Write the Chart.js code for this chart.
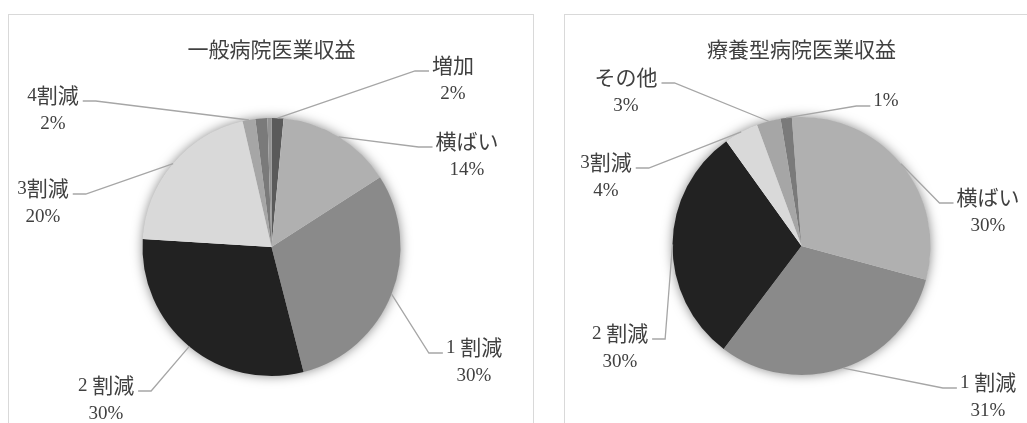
<!DOCTYPE html>
<html>
<head>
<meta charset="utf-8">
<script src="https://cdn.jsdelivr.net/npm/chart.js@4"></script>
<style>
  html, body { margin: 0; padding: 0; background: #fff; overflow: hidden; }
  body { width: 1027px; height: 423px; position: relative; }
  .frame { position: absolute; top: 14px; height: 430px; border: 1px solid #d9d9d9; box-sizing: border-box; }
  #frameA { left: 8px; width: 526px; }
  #frameB { left: 564px; width: 500px; }
  canvas { position: absolute; left: 0; top: 0; }
</style>
</head>
<body>
<div class="frame" id="frameA"></div>
<div class="frame" id="frameB"></div>
<canvas id="generalChart" width="1027" height="423"></canvas>
<canvas id="careChart" width="1027" height="423"></canvas>

<script>
// ===== DATA =====
const generalTitle = "一般病院医業収益";
const generalLabels = ["増加", "横ばい", "1 割減", "2 割減", "3割減", "4割減", "", ""];
const generalValues = [1.5, 14.4, 30.1, 30.0, 20.4, 1.6, 1.5, 0.5];
const generalColors = ["#5a5a5a", "#b0b0b0", "#8a8a8a", "#222222", "#d9d9d9", "#a6a6a6", "#7a7a7a", "#939393"];

const careTitle = "療養型病院医業収益";
const careLabels = ["横ばい", "1 割減", "2 割減", "3割減", "その他", ""];
const careValues = [30.4, 31.1, 29.8, 4.3, 3.0, 1.4];
const careColors = ["#b0b0b0", "#8a8a8a", "#222222", "#d9d9d9", "#a6a6a6", "#7a7a7a"];

// ===== LAYOUT (page px) =====
// label block centre for each slice, null = no label
const generalLabelPos = [[453, 65], [467, 141], [474, 347], [106, 385], [43, 188], [53, 95], null, null];
const careLabelPos = [[988, 197], [988, 382], [620, 333], [606, 162], [626, 77], [886, 100]];

// latin digits and kana/kanji are set with different faces, like a mincho label
const FONT_LATIN = "19px 'Liberation Serif', serif";
const FONT_CJK = "21px 'Noto Sans CJK JP', sans-serif";
const TEXT_COLOR = "#404040";
const LINE_COLOR = "#a6a6a6";

// split a string into runs of ascii / non-ascii characters
function textRuns(str) {
  const runs = [];
  for (const ch of str) {
    const latin = ch.charCodeAt(0) < 128;
    const last = runs[runs.length - 1];
    if (last && last.latin === latin) last.text += ch;
    else runs.push({ text: ch, latin: latin });
  }
  return runs;
}

function measureMixed(ctx, str) {
  let w = 0;
  textRuns(str).forEach(r => {
    ctx.font = r.latin ? FONT_LATIN : FONT_CJK;
    w += ctx.measureText(r.text).width;
  });
  return w;
}

function drawMixed(ctx, str, cx, cy) {
  let x = cx - measureMixed(ctx, str) / 2;
  ctx.textAlign = "left";
  textRuns(str).forEach(r => {
    ctx.font = r.latin ? FONT_LATIN : FONT_CJK;
    ctx.fillText(r.text, x, r.latin ? cy + 1 : cy);
    x += ctx.measureText(r.text).width;
  });
}

/* =========================
   SOFT SHADOW UNDER THE PIE
========================= */
const pieShadow = {
  id: "pieShadow",
  beforeDatasetsDraw(chart) {
    const arc = chart.getDatasetMeta(0).data[0];
    if (!arc) return;
    const ctx = chart.ctx;
    ctx.save();
    ctx.shadowColor = "rgba(0,0,0,0.5)";
    ctx.shadowBlur = 12;
    ctx.fillStyle = "#ffffff";
    ctx.beginPath();
    ctx.arc(arc.x, arc.y, arc.outerRadius - 0.5, 0, Math.PI * 2);
    ctx.fill();
    ctx.restore();
  }
};

/* =========================
   TITLE + LEADER LINE LABELS
========================= */
const leaderLabels = {
  id: "leaderLabels",
  afterDatasetsDraw(chart, args, opts) {
    const ctx = chart.ctx;
    const meta = chart.getDatasetMeta(0);
    const values = chart.data.datasets[0].data;
    const names = chart.data.labels;
    const total = values.reduce((a, b) => a + b, 0);
    const cx = meta.data[0].x;

    ctx.save();
    ctx.fillStyle = TEXT_COLOR;
    ctx.textBaseline = "middle";
    drawMixed(ctx, opts.title, cx, 49);

    meta.data.forEach((arc, i) => {
      const pos = opts.positions[i];
      if (!pos) return;
      const name = names[i];
      const pct = Math.round(values[i] / total * 100) + "%";
      const [tx, ty] = pos;

      const w = Math.max(measureMixed(ctx, name), measureMixed(ctx, pct));
      const segY = ty + 6;
      let far, near;
      if (tx > cx) {
        far = tx - w / 2 - 3;
        near = far - 14;
      } else {
        far = tx + w / 2 + 4;
        near = far + 13;
      }

      const mid = (arc.startAngle + arc.endAngle) / 2;
      const sx = arc.x + arc.outerRadius * Math.cos(mid);
      const sy = arc.y + arc.outerRadius * Math.sin(mid);

      ctx.strokeStyle = LINE_COLOR;
      ctx.lineWidth = 1.3;
      ctx.beginPath();
      ctx.moveTo(sx, sy);
      ctx.lineTo(near, segY);
      ctx.lineTo(far, segY);
      ctx.stroke();

      if (name) {
        drawMixed(ctx, name, tx, ty);
        drawMixed(ctx, pct, tx, ty + 28.5);
      } else {
        drawMixed(ctx, pct, tx, ty);
      }
    });
    ctx.restore();
  }
};

function buildPie(canvasId, title, labels, values, colors, positions, padding, rotation) {
  const ctx = document.getElementById(canvasId).getContext("2d");
  return new Chart(ctx, {
    type: "pie",
    data: {
      labels: labels,
      datasets: [
        {
          data: values,
          backgroundColor: colors,
          borderWidth: 0
        }
      ]
    },
    options: {
      responsive: false,
      animation: false,
      radius: 129,
      rotation: rotation,
      layout: { padding: padding },
      events: [],
      plugins: {
        legend: { display: false },
        tooltip: { enabled: false },
        leaderLabels: { title: title, positions: positions }
      }
    },
    plugins: [pieShadow, leaderLabels]
  });
}

// pie centres: (271.5, 247) and (801.5, 246)
buildPie("generalChart", generalTitle, generalLabels, generalValues, generalColors,
  generalLabelPos, { left: 0, right: 484, top: 71, bottom: 0 }, 0);
buildPie("careChart", careTitle, careLabels, careValues, careColors,
  careLabelPos, { left: 576, right: 0, top: 69, bottom: 0 }, -4.3);
</script>
</body>
</html>
